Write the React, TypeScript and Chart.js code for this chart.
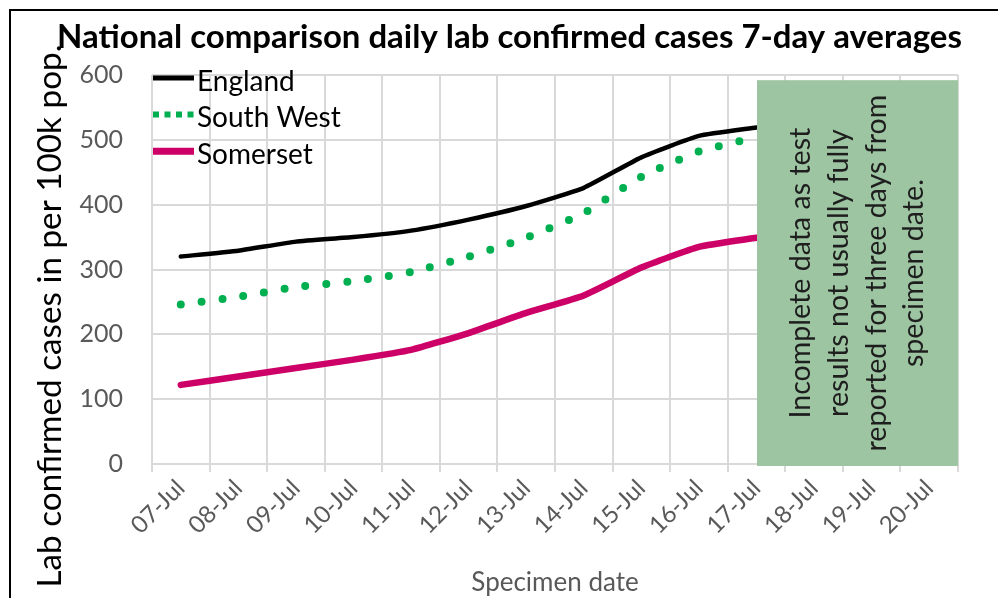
import React, { useEffect, useRef } from 'react';
import { Chart, registerables } from 'chart.js';

Chart.register(...registerables);

const categories = ['07-Jul', '08-Jul', '09-Jul', '10-Jul', '11-Jul', '12-Jul', '13-Jul', '14-Jul', '15-Jul', '16-Jul', '17-Jul', '18-Jul', '19-Jul', '20-Jul'];
const england = [320, 329, 343, 350, 360, 377, 398, 426, 473, 506, 519];
const southWest = [246, 258, 273, 282, 296, 320, 349, 387, 443, 482, 504];
const somerset = [122, 135, 148, 161, 176, 202, 233, 260, 303, 335, 349];
const seriesNames = ['England', 'South West', 'Somerset'];
const titleText = 'National comparison daily lab confirmed cases 7-day averages';
const yTitleText = 'Lab confirmed cases in per 100k pop.';
const xTitleText = 'Specimen date';
const noteLines = ['Incomplete data as test', 'results not usually fully', 'reported for three days from', 'specimen date.'];
const noteStartCategory = '17-Jul';
const noteTopValue = 592;

const FONT = "Lato, 'Open Sans', sans-serif";

function fitSize(ctx: CanvasRenderingContext2D, text: string, weight: string, base: number, target: number) {
  ctx.font = `${weight} ${base}px ${FONT}`;
  const w = ctx.measureText(text).width;
  return (base * target) / w;
}

const decorPlugin = {
  id: 'decor',
  afterDatasetsDraw(chart: any) {
    const { ctx, chartArea, scales } = chart;
    const x = scales.x;
    const y = scales.y;
    const left = x.getPixelForValue(categories.indexOf(noteStartCategory)) + 0.5;
    const top = y.getPixelForValue(noteTopValue);
    const right = chartArea.right;
    const bottom = chartArea.bottom + 2;
    ctx.save();
    ctx.fillStyle = '#9dc5a2';
    ctx.fillRect(left, top, right - left, bottom - top);
    const cx = (left + right) / 2;
    const cy = (top + bottom) / 2;
    const size = fitSize(ctx, noteLines[2], 'normal', 24, 357);
    ctx.font = `normal ${size}px ${FONT}`;
    ctx.fillStyle = '#1e1e1e';
    ctx.textAlign = 'center';
    ctx.textBaseline = 'middle';
    const lh = 37.7;
    noteLines.forEach((line, i) => {
      ctx.save();
      ctx.translate(cx + (i - (noteLines.length - 1) / 2) * lh, cy);
      ctx.rotate(-Math.PI / 2);
      ctx.fillText(line, 0, 0);
      ctx.restore();
    });
    ctx.restore();
  },
  afterDraw(chart: any) {
    const { ctx, chartArea } = chart;
    ctx.save();
    // legend
    const lx = chartArea.left + 1;
    chart.data.datasets.forEach((ds: any, i: number) => {
      const sy = chartArea.top + 3 + i * 36.6;
      ctx.save();
      ctx.strokeStyle = ds.borderColor;
      ctx.beginPath();
      if (ds.label === 'South West') {
        ctx.lineWidth = 6;
        ctx.setLineDash([6, 5.5]);
        ctx.lineCap = 'butt';
      } else {
        ctx.lineWidth = ds.label === 'Somerset' ? 7 : 5;
        ctx.setLineDash([]);
        ctx.lineCap = 'butt';
      }
      ctx.moveTo(lx, sy);
      ctx.lineTo(lx + 41, sy);
      ctx.stroke();
      ctx.restore();
      ctx.font = `normal 28px ${FONT}`;
      ctx.fillStyle = '#000';
      ctx.textAlign = 'left';
      ctx.textBaseline = 'alphabetic';
      ctx.fillText(ds.label, lx + 44, sy + 12.5);
    });
    // title
    const tSize = fitSize(ctx, titleText, 'bold', 28, 905);
    ctx.font = `bold ${tSize}px ${FONT}`;
    ctx.fillStyle = '#000';
    ctx.textAlign = 'center';
    ctx.textBaseline = 'alphabetic';
    ctx.fillText(titleText, 509.5, 48);
    // y title
    const ySize = fitSize(ctx, yTitleText, 'normal', 27, 543);
    ctx.font = `normal ${ySize}px ${FONT}`;
    ctx.translate(50, 316);
    ctx.rotate(-Math.PI / 2);
    ctx.textBaseline = 'middle';
    ctx.fillText(yTitleText, 0, 0);
    ctx.restore();
  },
};

export default function App() {
  const ref = useRef<HTMLCanvasElement>(null);
  useEffect(() => {
    if (!ref.current) return;
    const chart = new Chart(ref.current, {
      type: 'line',
      data: {
        labels: categories,
        datasets: [
          {
            label: seriesNames[0],
            data: england,
            borderColor: '#000000',
            borderWidth: 4.5,
            pointRadius: 0,
            tension: 0.15,
            borderCapStyle: 'round',
            borderJoinStyle: 'round',
          },
          {
            label: seriesNames[1],
            data: southWest,
            borderColor: '#00b050',
            borderWidth: 8,
            borderDash: [0, 21],
            borderCapStyle: 'round',
            pointRadius: 0,
            tension: 0.15,
          },
          {
            label: seriesNames[2],
            data: somerset,
            borderColor: '#cc0066',
            borderWidth: 6.5,
            pointRadius: 0,
            tension: 0.15,
            borderCapStyle: 'round',
            borderJoinStyle: 'round',
          },
        ],
      },
      options: {
        responsive: false,
        maintainAspectRatio: false,
        animation: false,
        devicePixelRatio: 1,
        layout: { padding: { top: 75, right: 40, left: 0, bottom: 0 } },
        plugins: {
          legend: { display: false },
          title: { display: false },
          tooltip: { enabled: false },
        },
        scales: {
          x: {
            type: 'category',
            offset: true,
            grid: {
              offset: true,
              color: '#d9d9d9',
              lineWidth: 2,
              tickLength: 8,
              tickColor: '#d9d9d9',
            },
            border: { display: true, color: '#d9d9d9', width: 2 },
            ticks: {
              autoSkip: false,
              minRotation: 45,
              maxRotation: 45,
              color: '#595959',
              font: { family: FONT, size: 24 },
              padding: 2,
            },
            title: {
              display: true,
              text: xTitleText,
              color: '#595959',
              font: { family: FONT, size: 26 },
              padding: { top: 4, bottom: 0 },
            },
            afterFit: (scale: any) => {
              scale.height = 134;
            },
          },
          y: {
            min: 0,
            max: 600,
            ticks: {
              stepSize: 100,
              color: '#595959',
              font: { family: FONT, size: 25 },
              padding: 29,
            },
            grid: { color: '#d9d9d9', lineWidth: 2, drawTicks: false },
            border: { display: false },
            afterFit: (scale: any) => {
              scale.width = 152;
            },
          },
        },
      },
      plugins: [decorPlugin],
    } as any);
    return () => chart.destroy();
  }, []);
  return (
    <div style={{ position: 'fixed', left: 0, top: 0, width: 998, height: 598, overflow: 'hidden', background: '#fff' }}>
      <canvas ref={ref} width={998} height={598} style={{ position: 'absolute', left: 0, top: 0, width: 998, height: 598 }} />
      <div style={{ position: 'absolute', left: 9, top: 9, width: 1200, height: 900, border: '2px solid #000', pointerEvents: 'none' }} />
    </div>
  );
}
